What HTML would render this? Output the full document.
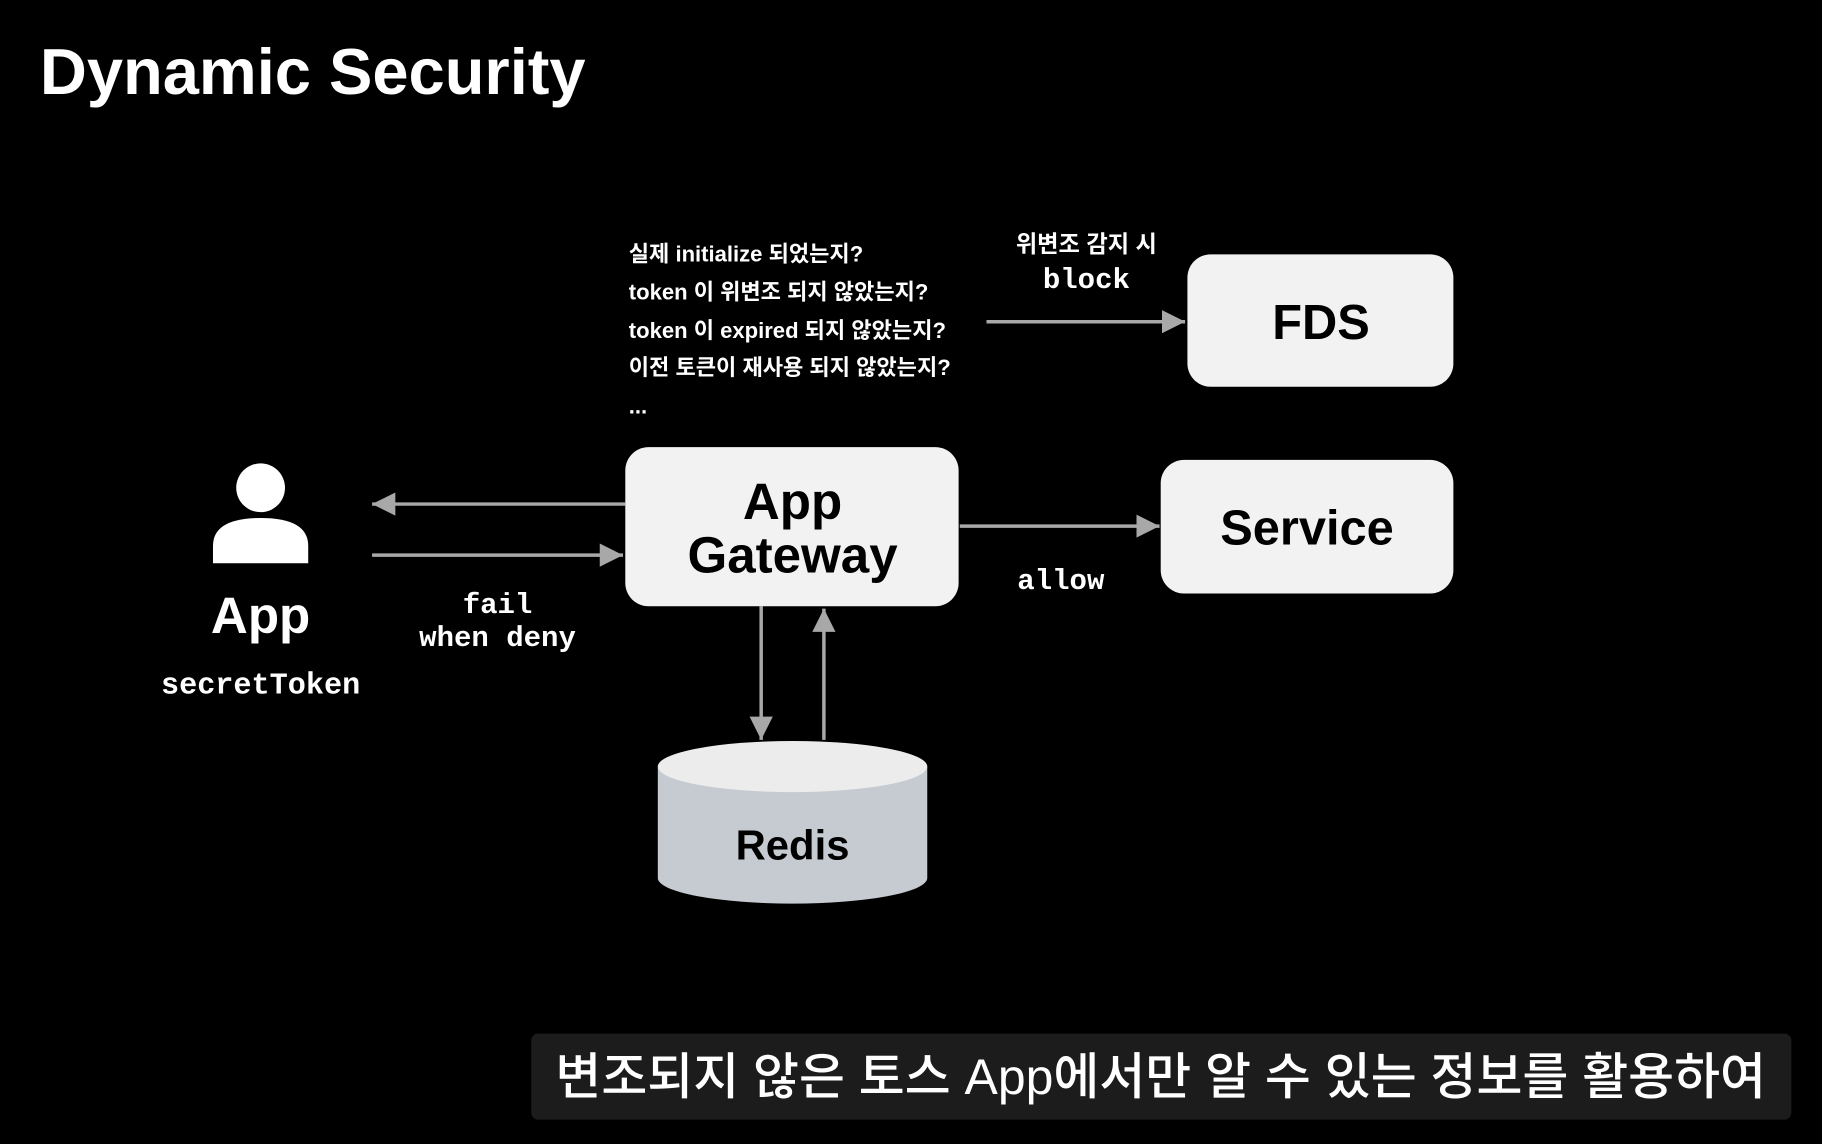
<!DOCTYPE html>
<html><head><meta charset="utf-8"><style>
html,body{margin:0;padding:0;background:#000;}
svg{display:block}
.s{font-family:"Liberation Sans","Noto Sans CJK KR",sans-serif;font-weight:bold;}
.m{font-family:"Liberation Mono","DejaVu Sans Mono",monospace;font-weight:600;}
</style></head><body>
<svg width="1822" height="1144" viewBox="0 0 1568 985" xmlns="http://www.w3.org/2000/svg">
<defs>
<marker id="b" viewBox="0 0 10 10" markerWidth="20" markerHeight="22" refX="10" refY="5" orient="auto" markerUnits="userSpaceOnUse">
<path d="M0,0 L10,5 L0,10 z" fill="#a8a8a8"/>
</marker>
</defs>
<rect width="1568" height="985" fill="#000"/>
<text x="34" y="81" class="s" font-size="56" fill="#fff">Dynamic Security</text>

<g class="s" font-size="19" fill="#fff">
<text x="541" y="225">실제 initialize 되었는지?</text>
<text x="541" y="258">token 이 위변조 되지 않았는지?</text>
<text x="541" y="291">token 이 expired 되지 않았는지?</text>
<text x="541" y="323">이전 토큰이 재사용 되지 않았는지?</text>
<text x="541" y="356">...</text>
</g>
<text x="935" y="217" class="s" font-size="20" fill="#fff" text-anchor="middle">위변조 감지 시</text>
<text x="935" y="248" class="m" font-size="25" fill="#fff" text-anchor="middle">block</text>

<g stroke="#a8a8a8" stroke-width="3" fill="none">
<line x1="849" y1="277" x2="1020" y2="277" marker-end="url(#b)"/>
<line x1="538" y1="434" x2="320" y2="434" marker-end="url(#b)"/>
<line x1="320" y1="478" x2="536" y2="478" marker-end="url(#b)"/>
<line x1="826" y1="453" x2="998" y2="453" marker-end="url(#b)"/>
<line x1="655" y1="522" x2="655" y2="637" marker-end="url(#b)"/>
<line x1="709" y1="637" x2="709" y2="524" marker-end="url(#b)"/>
</g>

<rect x="1022" y="219" width="229" height="114" rx="20" fill="#f2f2f2"/>
<text x="1137" y="292" class="s" font-size="42" fill="#000" text-anchor="middle">FDS</text>
<rect x="999" y="396" width="252" height="115" rx="20" fill="#f2f2f2"/>
<text x="1125" y="469" class="s" font-size="42" fill="#000" text-anchor="middle">Service</text>
<rect x="538" y="385" width="287" height="137" rx="20" fill="#f2f2f2"/>
<text x="682" y="447" class="s" font-size="44" fill="#000" text-anchor="middle">App</text>
<text x="682" y="493" class="s" font-size="44" fill="#000" text-anchor="middle">Gateway</text>

<text x="428" y="528" class="m" font-size="25" fill="#fff" text-anchor="middle">fail</text>
<text x="428" y="556" class="m" font-size="25" fill="#fff" text-anchor="middle">when deny</text>
<text x="913" y="507" class="m" font-size="25" fill="#fff" text-anchor="middle">allow</text>

<path d="M566,660 L566,756 A116,22 0 0 0 798,756 L798,660 Z" fill="#c6cbd2"/>
<ellipse cx="682" cy="660" rx="116" ry="22" fill="#ececec"/>
<text x="682" y="740" class="s" font-size="36" fill="#000" text-anchor="middle">Redis</text>

<circle cx="224" cy="420" r="21" fill="#fff"/>
<path d="M183,485 L183,470 Q183,446 224,446 Q265,446 265,470 L265,485 Z" fill="#fff"/>
<text x="224" y="545" class="s" font-size="44" fill="#fff" text-anchor="middle">App</text>
<text x="224" y="597" class="m" font-size="26" fill="#fff" text-anchor="middle">secretToken</text>

<rect x="457" y="890" width="1085" height="74" rx="6" fill="#1c1c1c"/>
<text x="999" y="942" font-family="Liberation Sans, Noto Sans CJK KR, sans-serif" font-size="43" fill="#fff" text-anchor="middle" style="font-weight:500">변조되지 않은 토스 App에서만 알 수 있는 정보를 활용하여</text>
</svg>
</body></html>
